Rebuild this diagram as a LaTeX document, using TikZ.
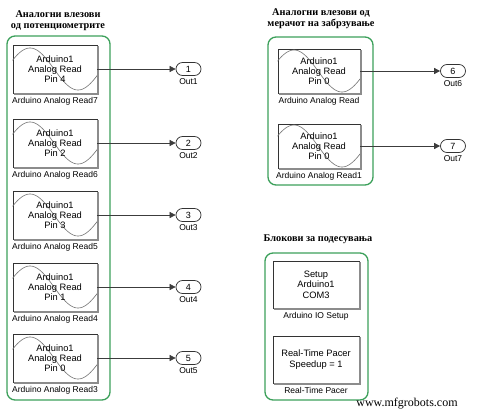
\documentclass[tikz,border=0pt]{standalone}
\usepackage{fontspec}
\setmainfont{Liberation Serif}
\setsansfont{Liberation Sans}
\usetikzlibrary{shapes.misc, arrows.meta, positioning}
\definecolor{groupgreen}{RGB}{60, 160, 90}
\definecolor{wavegray}{RGB}{115, 115, 115}
\definecolor{wiregray}{RGB}{60, 60, 60}
\definecolor{shadegray}{RGB}{140, 140, 140}

% sine trace and shade of a Simulink block
\newcommand{\readwave}[1]{%
  \begin{scope}
    \clip (#1.south west) rectangle (#1.north east);
    \draw[wavegray, line width=0.6pt, shift={(#1.center)}]
      plot[domain=-46:46, samples=60, smooth] (\x, {-21*cos(3.75*(\x+25))});
  \end{scope}}
\newcommand{\blockshade}[1]{%
  \fill[shadegray] ([xshift=1.6pt]#1.south west) rectangle ([xshift=1.6pt, yshift=-1.6pt]#1.south east);
  \fill[shadegray] ([yshift=-1.6pt]#1.north east) rectangle ([xshift=1.6pt]#1.south east);}

\tikzset{
  readblock/.style={draw=black!80, fill=white, line width=0.8pt, minimum width=84pt, minimum height=48pt,
    inner sep=0pt, align=center, font=\sffamily\fontsize{9.3}{10}\selectfont},
  readtext/.style={readblock, draw=none, fill=none},
  setupblock/.style={draw=black!80, fill=white, line width=0.8pt, minimum width=86pt, minimum height=47pt,
    inner sep=0pt, align=center, font=\sffamily\fontsize{9.3}{10.5}\selectfont},
  blocklabel/.style={font=\sffamily\fontsize{8.5}{10}\selectfont, inner sep=1.5pt, label distance=2.5pt},
  outport/.style={draw=black!80, fill=white, rounded rectangle, line width=0.7pt, minimum width=25pt,
    minimum height=13pt, inner sep=0pt, font=\sffamily\fontsize{9}{10}\selectfont},
  outlabel/.style={font=\sffamily\fontsize{8.5}{10}\selectfont, inner sep=1pt, label distance=1.5pt},
  wire/.style={draw=wiregray, line width=0.6pt, -{Triangle[length=6pt, width=6pt]}},
  groupbox/.style={draw=groupgreen, line width=1.3pt, rounded corners=8pt},
  grouptitle/.style={font=\bfseries\fontsize{10.3}{11.5}\selectfont, align=center}
}

\begin{document}
\begin{tikzpicture}[x=1pt, y=-1pt]
  \useasboundingbox (0, 0) rectangle (480, 415);

  % Group frames
  \draw[groupbox] (7, 36) rectangle (110, 400);
  \draw[groupbox] (268, 37) rectangle (373, 185);
  \draw[groupbox] (265, 253) rectangle (368, 400);

  % Group titles
  \node[grouptitle] (titlepots) at (58, 20.5) {Аналогни влезови\\од потенциометрите};
  \node[grouptitle] (titleaccel) at (321, 18.5) {Аналогни влезови од\\мерачот на забрзување};
  \node[grouptitle] (titlesetup) at (318, 239) {Блокови за подесувања};

  % Potentiometer reads
  \node[readblock, label={[blocklabel]below:Arduino Analog Read7}] (read7) at (55, 69) {};
  \node[readblock, label={[blocklabel]below:Arduino Analog Read6}] (read6) at (55, 143) {};
  \node[readblock, label={[blocklabel]below:Arduino Analog Read5}] (read5) at (55, 215) {};
  \node[readblock, label={[blocklabel]below:Arduino Analog Read4}] (read4) at (55, 287) {};
  \node[readblock, label={[blocklabel]below:Arduino Analog Read3}] (read3) at (55, 358) {};
  \readwave{read7} \readwave{read6} \readwave{read5} \readwave{read4} \readwave{read3}
  \blockshade{read7} \blockshade{read6} \blockshade{read5} \blockshade{read4} \blockshade{read3}
  \node[readtext] (read7text) at (read7) {Arduino1\\Analog Read\\Pin 4};
  \node[readtext] (read6text) at (read6) {Arduino1\\Analog Read\\Pin 2};
  \node[readtext] (read5text) at (read5) {Arduino1\\Analog Read\\Pin 3};
  \node[readtext] (read4text) at (read4) {Arduino1\\Analog Read\\Pin 1};
  \node[readtext] (read3text) at (read3) {Arduino1\\Analog Read\\Pin 0};

  \node[outport, label={[outlabel]below:Out1}] (out1) at (188.5, 69) {1};
  \node[outport, label={[outlabel]below:Out2}] (out2) at (188.5, 143) {2};
  \node[outport, label={[outlabel]below:Out3}] (out3) at (188.5, 215) {3};
  \node[outport, label={[outlabel]below:Out4}] (out4) at (188.5, 287) {4};
  \node[outport, label={[outlabel]below:Out5}] (out5) at (188.5, 358) {5};

  \draw[wire] (read7) -- (out1);
  \draw[wire] (read6) -- (out2);
  \draw[wire] (read5) -- (out3);
  \draw[wire] (read4) -- (out4);
  \draw[wire] (read3) -- (out5);

  % Accelerometer reads
  \node[readblock, minimum width=82pt, minimum height=44pt, label={[blocklabel]below:Arduino Analog Read}] (read0) at (319, 71) {};
  \node[readblock, minimum width=82pt, minimum height=44pt, label={[blocklabel]below:Arduino Analog Read1}] (read1) at (319, 146) {};
  \readwave{read0} \readwave{read1}
  \blockshade{read0} \blockshade{read1}
  \node[readtext] (read0text) at (read0) {Arduino1\\Analog Read\\Pin 0};
  \node[readtext] (read1text) at (read1) {Arduino1\\Analog Read\\Pin 0};

  \node[outport, label={[outlabel]below:Out6}] (out6) at (453, 71) {6};
  \node[outport, label={[outlabel]below:Out7}] (out7) at (453, 146) {7};

  \draw[wire] (read0) -- (out6);
  \draw[wire] (read1) -- (out7);

  % Setup blocks
  \node[setupblock, label={[blocklabel]below:Arduino IO Setup}] (iosetup) at (316, 284.5) {Setup\\Arduino1\\COM3};
  \node[setupblock, label={[blocklabel]below:Real-Time Pacer}] (pacer) at (316, 359.5) {Real-Time Pacer\\Speedup = 1};
  \blockshade{iosetup} \blockshade{pacer}

  \node[font=\fontsize{12}{14}\selectfont] (site) at (407, 404) {www.mfgrobots.com};
\end{tikzpicture}
\end{document}
